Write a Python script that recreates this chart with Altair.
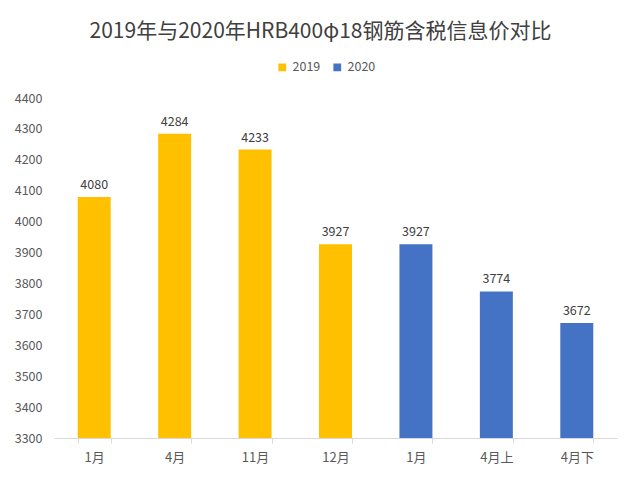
import altair as alt
import pandas as pd

keys = ["2019-1月", "2019-4月", "2019-11月", "2019-12月", "2020-1月", "2020-4月上", "2020-4月下"]
years = ["2019", "2019", "2019", "2019", "2020", "2020", "2020"]
prices = [4080, 4284, 4233, 3927, 3927, 3774, 3672]

df = pd.DataFrame({"key": keys, "year": years, "price": prices})

font = "Noto Sans CJK SC"

x = alt.X("key:N", sort=keys, title=None,
          scale=alt.Scale(paddingInner=0.59, paddingOuter=0.295),
          axis=alt.Axis(labelExpr="split(datum.value,'-')[1]", labelAngle=0,
                        labelFontSize=13, labelColor="#595959", labelFont=font,
                        labelPadding=8, tickBand="extent", tickSize=5,
                        tickColor="#d9d9d9", domainColor="#d9d9d9", grid=False))
y = alt.Y("price:Q", title=None,
          scale=alt.Scale(domain=[3300, 4400], nice=False, zero=False),
          axis=alt.Axis(values=list(range(3300, 4401, 100)), labelFontSize=12.5,
                        labelColor="#595959", labelFont=font, labelPadding=12,
                        format="d", ticks=False, domain=False, grid=False))

base = alt.Chart(df).encode(x=x, y=y)

bars = base.mark_bar(clip=True).encode(
    y2=alt.datum(3300),
    color=alt.Color("year:N", title=None,
                    scale=alt.Scale(domain=["2019", "2020"], range=["#FFC000", "#4472C4"]),
                    legend=alt.Legend(orient="none", direction="horizontal",
                                      legendX=222, legendY=-37, symbolType="square",
                                      symbolSize=60, labelFontSize=12.5, labelFont=font,
                                      labelColor="#595959", columnPadding=10,
                                      symbolStrokeWidth=0))
)
text = base.mark_text(dy=-12, fontSize=12.5, font=font, color="#404040").encode(
    text="price:Q")

chart = (bars + text).properties(
    width=563, height=340,
    title=alt.TitleParams("2019年与2020年HRB400φ18钢筋含税信息价对比", fontSize=21,
                          font=font, fontWeight="normal", color="#404040",
                          anchor="middle", offset=19, dx=-15),
    autosize=alt.AutoSizeParams(type="none"),
    padding={"left": 46, "top": 90, "right": 15, "bottom": 30},
    background="white",
).configure_view(stroke=None)

chart.save("out.html", embed_options={"renderer": "svg", "actions": False})
